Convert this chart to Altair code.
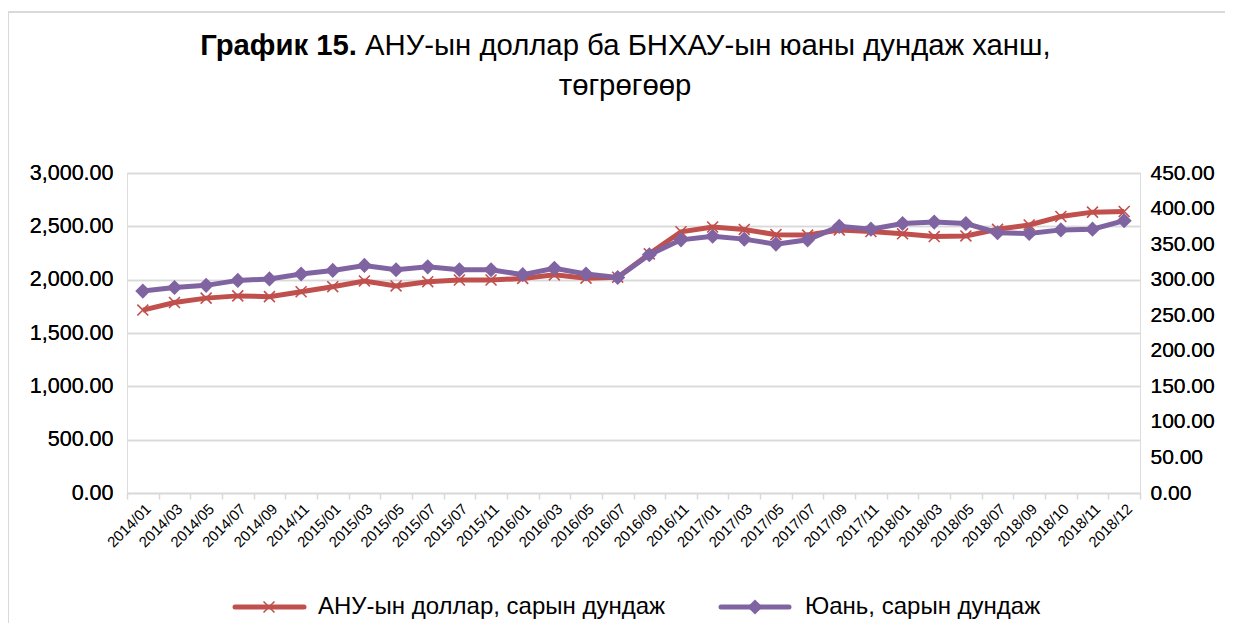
import altair as alt
import pandas as pd

labels = ["2014/01", "2014/03", "2014/05", "2014/07", "2014/09", "2014/11",
          "2015/01", "2015/03", "2015/05", "2015/07", "2015/07", "2015/11",
          "2016/01", "2016/03", "2016/05", "2016/07", "2016/09", "2016/11",
          "2017/01", "2017/03", "2017/05", "2017/07", "2017/09", "2017/11",
          "2018/01", "2018/03", "2018/05", "2018/07", "2018/09", "2018/10",
          "2018/11", "2018/12"]
usd = [1715, 1786, 1827, 1848, 1841, 1887, 1934, 1988, 1941, 1981, 1997, 1997,
       2012, 2045, 2014, 2023, 2242, 2449, 2494, 2471, 2422, 2418, 2466, 2451,
       2430, 2404, 2410, 2472, 2513, 2592, 2633, 2639]
cny = [284, 289, 292, 299, 301, 308, 313, 320, 314, 318, 314, 314,
       307, 316, 308, 303, 335, 356, 361, 357, 350, 356, 375, 371,
       379, 381, 379, 366, 365, 370, 371, 383]

title_bold = "График 15."
title_rest = "АНУ-ын доллар ба БНХАУ-ын юаны дундаж ханш,"
title_line2 = "төгрөгөөр"
legend_usd = "АНУ-ын доллар, сарын дундаж"
legend_cny = "Юань, сарын дундаж"

RED = "#C0504D"
PURPLE = "#8064A2"
GRID = "#D9D9D9"
FONT = "Liberation Sans"

df = pd.DataFrame({"key": list(range(len(labels))), "label": labels, "usd": usd, "cny": cny})

label_expr = "[" + ",".join("'" + l + "'" for l in labels) + "][datum.value]"

xenc = alt.X("key:O", bandPosition=0.5,
             scale=alt.Scale(type="band", paddingInner=0, paddingOuter=0),
             axis=alt.Axis(title=None, labelExpr=label_expr, labelAngle=-45,
                           labelFontSize=15, labelColor="#000000", labelFont=FONT,
                           domainColor=GRID, domainWidth=1.5, tickColor=GRID,
                           tickWidth=1.5, tickSize=6, tickBand="extent",
                           labelPadding=2, grid=False))

yleft = alt.Y("usd:Q", scale=alt.Scale(domain=[0, 3000], nice=False),
              axis=alt.Axis(title=None, values=[0, 500, 1000, 1500, 2000, 2500, 3000],
                            format=",.2f", labelFontSize=21.5, labelFont=FONT,
                            labelColor="#000000", grid=True, gridColor=GRID,
                            gridWidth=1.5, domain=False, ticks=False, labelPadding=14,
                            orient="left"))
yright = alt.Y("cny:Q", scale=alt.Scale(domain=[0, 450], nice=False),
               axis=alt.Axis(title=None, values=list(range(0, 451, 50)),
                             format=".2f", labelFontSize=21, labelFont=FONT,
                             labelColor="#000000", grid=False, domain=False,
                             ticks=False, labelPadding=10, orient="right"))

base = alt.Chart(df)
xshape = "M-1,-1L1,1M-1,1L1,-1"

usd_line = base.mark_line(color=RED, strokeWidth=5).encode(x=xenc, y=yleft)
usd_pts = base.mark_point(shape=xshape, color=RED, filled=False, size=120,
                          strokeWidth=1.6, opacity=1).encode(x=xenc, y=yleft)
cny_line = base.mark_line(color=PURPLE, strokeWidth=5).encode(x=xenc, y=yright)
cny_pts = base.mark_point(shape="diamond", color=PURPLE, filled=True, size=230,
                          opacity=1).encode(x=xenc, y=yright)

one = alt.Chart(pd.DataFrame({"a": [0]}))

border = one.mark_rect(fill=None, stroke=GRID, strokeWidth=2, clip=False).encode(
    x=alt.value(-119), x2=alt.value(1120), y=alt.value(-161), y2=alt.value(470))

TS = 29.3
t1 = one.mark_text(text=title_bold, font=FONT, fontSize=TS, fontWeight="bold",
                   align="right", baseline="middle", color="#000000").encode(
    x=alt.value(230), y=alt.value(-127))
t2 = one.mark_text(text=title_rest, font=FONT, fontSize=TS, align="left",
                   baseline="middle", color="#000000").encode(
    x=alt.value(238), y=alt.value(-127))
t3 = one.mark_text(text=title_line2, font=FONT, fontSize=TS, align="center",
                   baseline="middle", color="#000000").encode(
    x=alt.value(498), y=alt.value(-87))

LY = 434
LS = 24
leg_r_line = one.mark_rule(color=RED, strokeWidth=5, strokeCap="round").encode(
    x=alt.value(108), x2=alt.value(177), y=alt.value(LY))
leg_r_pt = one.mark_point(shape=xshape, color=RED, filled=False, size=120,
                          strokeWidth=1.6, opacity=1).encode(x=alt.value(142), y=alt.value(LY))
leg_r_txt = one.mark_text(text=legend_usd, font=FONT, fontSize=LS, align="left",
                          baseline="middle", color="#000000").encode(
    x=alt.value(191), y=alt.value(LY))
leg_p_line = one.mark_rule(color=PURPLE, strokeWidth=5, strokeCap="round").encode(
    x=alt.value(594), x2=alt.value(662), y=alt.value(LY))
leg_p_pt = one.mark_point(shape="diamond", color=PURPLE, filled=True, size=230,
                          opacity=1).encode(x=alt.value(628), y=alt.value(LY))
leg_p_txt = one.mark_text(text=legend_cny, font=FONT, fontSize=LS, align="left",
                          baseline="middle", color="#000000").encode(
    x=alt.value(678), y=alt.value(LY))

chart = alt.layer(
    usd_line, usd_pts, cny_line, cny_pts,
    border, t1, t2, t3,
    leg_r_line, leg_r_pt, leg_r_txt, leg_p_line, leg_p_pt, leg_p_txt
).resolve_scale(y="independent").properties(
    width=1013, height=320,
    padding={"left": 119, "top": 165, "right": 85, "bottom": 130},
    autosize=alt.AutoSizeParams(type="none"),
).configure_view(stroke=None).configure(background="#FFFFFF")

chart.save("out.html", embed_options={"renderer": "svg", "actions": False})
